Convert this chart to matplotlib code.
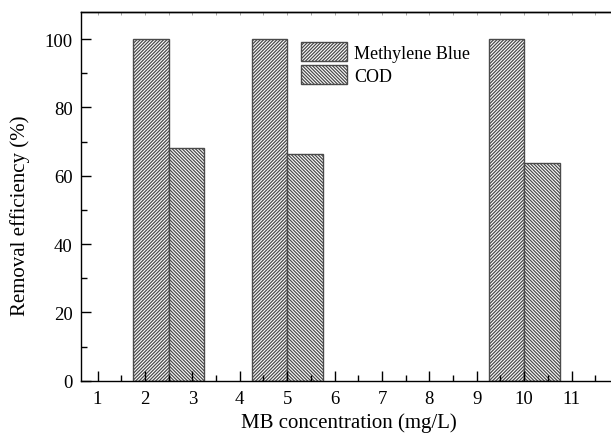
import numpy as np
import matplotlib
matplotlib.use("Agg")
import matplotlib.pyplot as plt
from matplotlib.ticker import MultipleLocator

# Removal efficiency of methylene blue and COD at three MB concentrations
concentrations = [2.5, 5, 10]
mb_removal = [100, 100, 100]
cod_removal = [68.1, 66.3, 63.7]
series_names = ["Methylene Blue", "COD"]
x_ticks = list(range(1, 12))
y_ticks = [0, 20, 40, 60, 80, 100]

plt.rcParams["font.family"] = ["Liberation Serif", "DejaVu Serif"]
plt.rcParams["font.size"] = 13
plt.rcParams["hatch.linewidth"] = 0.9
plt.rcParams["axes.linewidth"] = 1.0

W, H = 611, 439
fig = plt.figure(figsize=(W / 100, H / 100), dpi=100)

x0_px, y_axis_px, top_px = 81, 381.7, 12.7
xmin, xmax = 0.65, 12.4
px_per_unit = 47.4
ax_w = (xmax - xmin) * px_per_unit
ax = fig.add_axes([x0_px / W, (H - y_axis_px) / H, ax_w / W, (y_axis_px - top_px) / H])

bar_w = 0.75
xc = np.array(concentrations)
edge = "#4a4a4a"
ax.bar(xc - bar_w / 2, mb_removal, width=bar_w, facecolor="white",
       edgecolor=edge, linewidth=1.0, hatch="/" * 10, label=series_names[0], zorder=2)
ax.bar(xc + bar_w / 2, cod_removal, width=bar_w, facecolor="white",
       edgecolor=edge, linewidth=1.0, hatch="\\" * 10, label=series_names[1], zorder=2)

ax.set_xlim(xmin, xmax)
ax.set_ylim(0, 108)
ax.set_xticks(x_ticks)
ax.set_yticks(y_ticks)
ax.xaxis.set_minor_locator(MultipleLocator(0.5))
ax.yaxis.set_minor_locator(MultipleLocator(10))
ax.tick_params(which="major", direction="in", length=7, width=1.0, pad=7,
               top=False, right=False, labelsize=13.5)
ax.tick_params(which="minor", direction="in", length=4, width=1.0,
               top=False, right=False)
ax.tick_params(axis="y", which="major", pad=6)
ax.spines["right"].set_visible(False)
for sp in ax.spines.values():
    sp.set_zorder(5)
ax.set_axisbelow(False)

# faint ticks along the top frame
sec = ax.secondary_xaxis("top")
sec.set_xticks(np.arange(1, 12.5, 0.5))
sec.tick_params(direction="in", length=2, width=0.6, color="#999999",
                labeltop=False)
sec.spines["top"].set_linewidth(1.0)

ax.set_xlabel("MB concentration (mg/L)", fontsize=15)
ax.set_ylabel("Removal efficiency (%)", fontsize=15)
ax.xaxis.set_label_coords((6.31 - xmin) / (xmax - xmin), (H - 413 - (H - y_axis_px)) / (y_axis_px - top_px))
ax.yaxis.label.set_verticalalignment("center")
ax.yaxis.set_label_coords((20 - x0_px) / ax_w, (y_axis_px - 216) / (y_axis_px - top_px))

em = 13 * 100 / 72
leg = ax.legend(loc="upper left", bbox_to_anchor=(300.7 / W, 1 - 43.3 / H),
                bbox_transform=fig.transFigure, frameon=False, borderpad=0,
                borderaxespad=0, handlelength=46.6 / em, handleheight=22.4 / em,
                labelspacing=3.6 / em, handletextpad=0.37, fontsize=13)

fig.savefig("out.png", dpi=100)
